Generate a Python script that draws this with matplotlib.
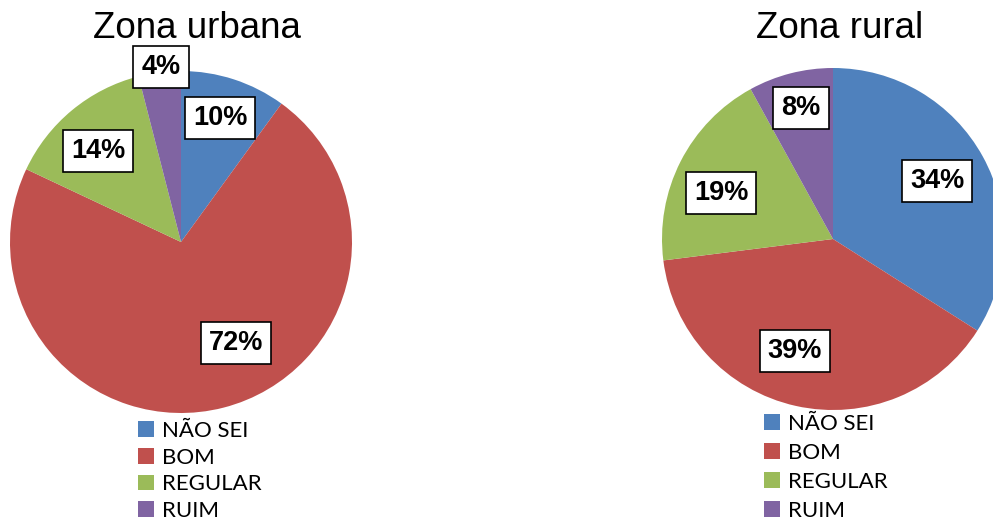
import matplotlib.pyplot as plt
import numpy as np

# Data
categories = ['NÃO SEI', 'BOM', 'REGULAR', 'RUIM']
urbana = [10, 72, 14, 4]
rural = [34, 39, 19, 8]
titles = ['Zona urbana', 'Zona rural']
colors = ['#4F81BD', '#C0504D', '#9BBB59', '#8064A2']

W, H = 993, 528

# layout in pixel coordinates (y measured from top)
centers = [(181, 242), (833, 239)]
radius = [171, 171]
title_pos = [(197, 28), (840, 28)]
label_pos = [
    [(220, 118), (236, 343), (98, 151), (161, 67)],
    [(937, 181), (795, 351), (721, 193), (801, 108)],
]
legend_anchor = [(138, 421), (764, 414)]

fig = plt.figure(figsize=(W / 100, H / 100), dpi=100)
ax = fig.add_axes([0, 0, 1, 1])
ax.set_xlim(0, W)
ax.set_ylim(0, H)
ax.set_aspect('equal')
ax.axis('off')

for i, vals in enumerate([urbana, rural]):
    cx, cy = centers[i]
    wedges, _ = ax.pie(vals, colors=colors, startangle=90, counterclock=False,
                       center=(cx, H - cy), radius=radius[i],
                       wedgeprops=dict(linewidth=0))
    ax.text(title_pos[i][0], H - title_pos[i][1], titles[i], fontsize=26.5,
            family='Liberation Sans', ha='center', va='center')
    for v, (lx, ly) in zip(vals, label_pos[i]):
        ax.text(lx, H - ly, f'{v}%', fontsize=19.5, fontweight='bold',
                family='Liberation Sans', ha='center', va='center',
                bbox=dict(boxstyle='square,pad=0.3', fc='white', ec='black', lw=1.2))
    lx, ly = legend_anchor[i]
    fig.legend(wedges, categories, loc='upper left',
               bbox_to_anchor=(lx / W, 1 - ly / H), frameon=False,
               prop=dict(family='Lato', size=16), borderpad=0, borderaxespad=0,
               handlelength=0.7, handleheight=0.7, handletextpad=0.4,
               labelspacing=0.3 if i == 0 else 0.4)

ax.set_xlim(0, W)
ax.set_ylim(0, H)
fig.savefig('out.png', dpi=100)
